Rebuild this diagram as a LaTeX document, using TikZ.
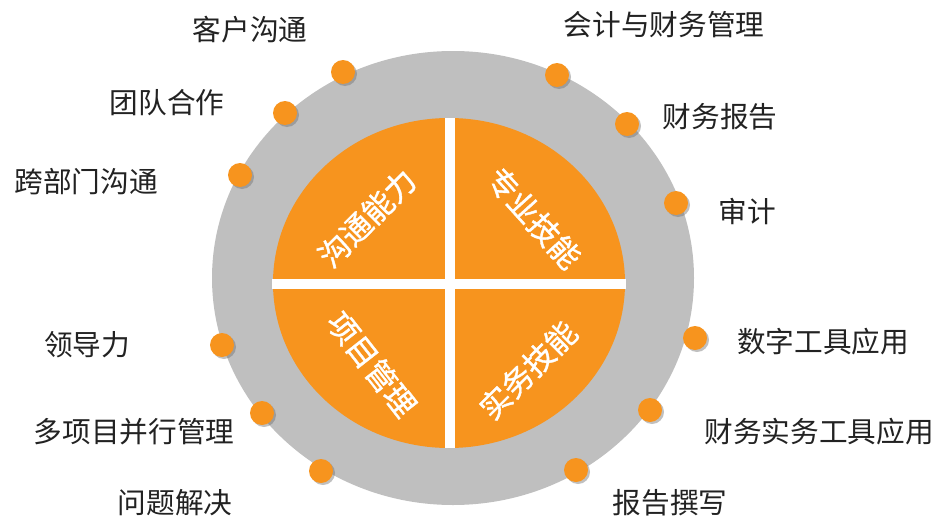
\documentclass[tikz,border=0pt]{standalone}
\usepackage{fontspec}
\newfontfamily\cjk{Noto Sans CJK SC}
\newfontfamily\cjkthick[FakeBold=1.2]{Noto Sans CJK SC}
\usetikzlibrary{shadows}

\definecolor{ringgray}{RGB}{191,191,191}
\definecolor{skillorange}{RGB}{247,148,30}
\definecolor{labeltext}{RGB}{34,34,34}

\tikzset{
  dot/.style={circle,fill=skillorange,minimum size=18pt,inner sep=0pt,
    drop shadow={shadow xshift=1.5pt,shadow yshift=-1.5pt,fill=black!55,opacity=0.45}},
  skill/.style={font=\cjk\fontsize{21.5}{25}\selectfont,text=labeltext,inner sep=0pt},
  area/.style={font=\cjkthick\fontsize{23}{27}\selectfont,text=white,inner sep=0pt},
}

\begin{document}
\begin{tikzpicture}[x=0.75pt,y=-0.75pt]
      \useasboundingbox (0,0) rectangle (939,521);

      \fill[ringgray] (453,278) ellipse [x radius=180.75pt,y radius=170.25pt];
      \fill[skillorange] (449,283) ellipse [x radius=132pt,y radius=123.75pt];

      \draw[white,line width=7.5pt] (450,118) -- (450,448);
      \draw[white,line width=7.5pt] (272,283.5) -- (626,283.5);

      \node[area,rotate=45] (comm) at (367,218) {沟通能力};
      \node[area,rotate=-48] (prof) at (534,218) {专业技能};
      \node[area,rotate=-52] (proj) at (372,364) {项目管理};
      \node[area,rotate=45] (prac) at (528,370) {实务技能};

      % left side
      \node[dot] (d1) at (343,72) {};
      \node[dot] (d2) at (285,113) {};
      \node[dot] (d3) at (240,175) {};
      \node[dot] (d4) at (222,345) {};
      \node[dot] (d5) at (262,413) {};
      \node[dot] (d6) at (321,471) {};

      % right side
      \node[dot] (d7) at (557,75) {};
      \node[dot] (d8) at (627,124) {};
      \node[dot] (d9) at (676,203) {};
      \node[dot] (d10) at (695,338) {};
      \node[dot] (d11) at (650,410) {};
      \node[dot] (d12) at (576,470) {};

      \node[skill] (l1) at (250,30) {客户沟通};
      \node[skill] (l2) at (167,103) {团队合作};
      \node[skill] (l3) at (86,182) {跨部门沟通};
      \node[skill] (l4) at (87,345) {领导力};
      \node[skill] (l5) at (134,432) {多项目并行管理};
      \node[skill] (l6) at (175,503) {问题解决};

      \node[skill] (l7) at (664,25) {会计与财务管理};
      \node[skill] (l8) at (720,117) {财务报告};
      \node[skill] (l9) at (747,212) {审计};
      \node[skill] (l10) at (823,342) {数字工具应用};
      \node[skill] (l11) at (819,432) {财务实务工具应用};
      \node[skill] (l12) at (670,503) {报告撰写};
    \end{tikzpicture}
\end{document}
